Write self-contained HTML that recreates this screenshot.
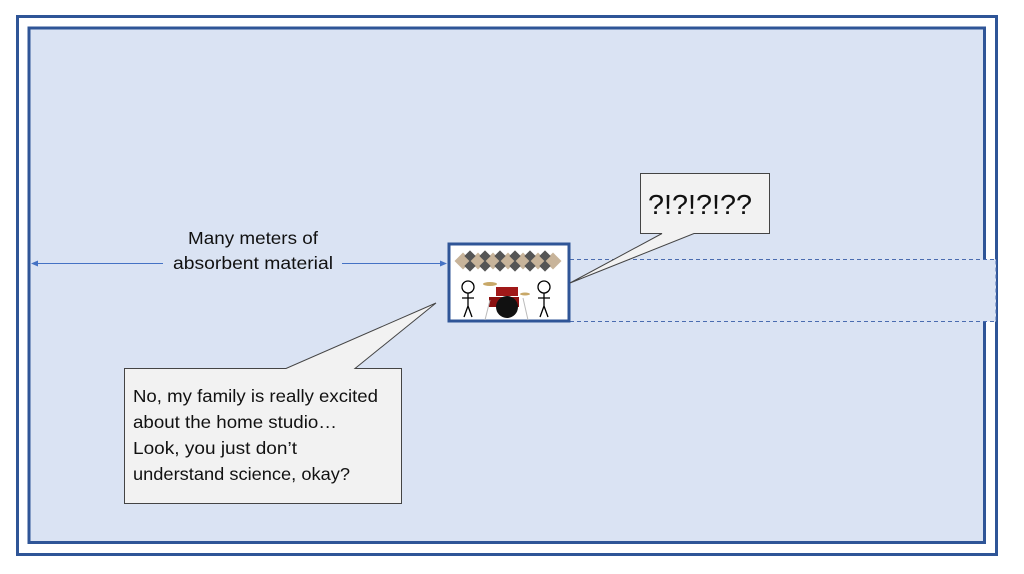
<!DOCTYPE html>
<html><head><meta charset="utf-8"><style>
html,body{margin:0;padding:0;background:#fff;}
svg{display:block;}
text{font-family:"Liberation Sans",sans-serif;fill:#111;}
</style></head><body>
<svg width="1024" height="574" viewBox="0 0 1024 574" xmlns="http://www.w3.org/2000/svg">
<rect x="0" y="0" width="1024" height="574" fill="#fff"/>
<rect x="17.5" y="16.5" width="979" height="538" fill="none" stroke="#2f5597" stroke-width="3"/>
<rect x="29" y="28" width="955.5" height="514.5" fill="#dae3f3" stroke="#2f5597" stroke-width="3"/>
<rect x="570" y="259.5" width="426" height="62" fill="#dae3f3" stroke="#4a6cb0" stroke-width="1" stroke-dasharray="4,3"/>
<line x1="33" y1="263.5" x2="163" y2="263.5" stroke="#4472c4" stroke-width="1"/>
<line x1="342" y1="263.5" x2="443" y2="263.5" stroke="#4472c4" stroke-width="1"/>
<polygon points="31,263.5 38,260.5 38,266.5" fill="#4472c4"/>
<polygon points="447,263.5 440,260.5 440,266.5" fill="#4472c4"/>
<text x="253" y="244" font-size="17.5" text-anchor="middle" textLength="130" lengthAdjust="spacingAndGlyphs">Many meters of</text>
<text x="253" y="269" font-size="17.5" text-anchor="middle" textLength="160" lengthAdjust="spacingAndGlyphs">absorbent material</text>
<rect x="449" y="244" width="120" height="77" fill="#fff" stroke="#2f5597" stroke-width="3"/>
<g>
<g fill="#c8b49a">
<rect x="457" y="255" width="12" height="12" transform="rotate(45 463 261)"/>
<rect x="472" y="255" width="12" height="12" transform="rotate(45 478 261)"/>
<rect x="487" y="255" width="12" height="12" transform="rotate(45 493 261)"/>
<rect x="502" y="255" width="12" height="12" transform="rotate(45 508 261)"/>
<rect x="517" y="255" width="12" height="12" transform="rotate(45 523 261)"/>
<rect x="532" y="255" width="12" height="12" transform="rotate(45 538 261)"/>
<rect x="547" y="255" width="12" height="12" transform="rotate(45 553 261)"/>
</g>
<g fill="#555">
<rect x="466" y="252" width="8" height="8" transform="rotate(45 470 256)"/>
<rect x="481" y="252" width="8" height="8" transform="rotate(45 485 256)"/>
<rect x="496" y="252" width="8" height="8" transform="rotate(45 500 256)"/>
<rect x="511" y="252" width="8" height="8" transform="rotate(45 515 256)"/>
<rect x="526" y="252" width="8" height="8" transform="rotate(45 530 256)"/>
<rect x="541" y="252" width="8" height="8" transform="rotate(45 545 256)"/>
<rect x="466" y="262" width="8" height="8" transform="rotate(45 470 266)"/>
<rect x="481" y="262" width="8" height="8" transform="rotate(45 485 266)"/>
<rect x="496" y="262" width="8" height="8" transform="rotate(45 500 266)"/>
<rect x="511" y="262" width="8" height="8" transform="rotate(45 515 266)"/>
<rect x="526" y="262" width="8" height="8" transform="rotate(45 530 266)"/>
<rect x="541" y="262" width="8" height="8" transform="rotate(45 545 266)"/>
</g>
</g>
<g stroke="#000" stroke-width="1.3" fill="none">
<circle cx="468" cy="287" r="6" fill="#fff"/>
<path d="M468 293 V306 M462 298 H474 M468 306 L464 317 M468 306 L472 317"/>
<circle cx="544" cy="287" r="6" fill="#fff"/>
<path d="M544 293 V306 M538 298 H550 M544 306 L540 317 M544 306 L548 317"/>
</g>
<ellipse cx="490" cy="284" rx="7" ry="2" fill="#c8a868"/>
<ellipse cx="525" cy="294" rx="5" ry="1.5" fill="#c8a868"/>
<rect x="496" y="287" width="22" height="9" fill="#a01818"/>
<rect x="489" y="297" width="30" height="10" fill="#8a1010"/>
<circle cx="507" cy="307" r="11" fill="#111"/>
<path d="M485 320 L490 300 M528 320 L523 298" stroke="#bbb" stroke-width="1"/>
<path d="M640.5 173.5 H769.5 V233.5 H694 L570 283 L662 233.5 H640.5 Z" fill="#f2f2f2" stroke="#444" stroke-width="1"/>
<text x="648" y="214" font-size="28" textLength="104" lengthAdjust="spacingAndGlyphs">?!?!?!??</text>
<path d="M124.5 368.5 H286 L436 303 L355 368.5 H401.5 V503.5 H124.5 Z" fill="#f2f2f2" stroke="#444" stroke-width="1"/>
<g font-size="17.5">
<text x="133" y="402" textLength="245" lengthAdjust="spacingAndGlyphs">No, my family is really excited</text>
<text x="133" y="428" textLength="204" lengthAdjust="spacingAndGlyphs">about the home studio…</text>
<text x="133" y="454" textLength="164" lengthAdjust="spacingAndGlyphs">Look, you just don’t</text>
<text x="133" y="480" textLength="217" lengthAdjust="spacingAndGlyphs">understand science, okay?</text>
</g>
</svg>
</body></html>
